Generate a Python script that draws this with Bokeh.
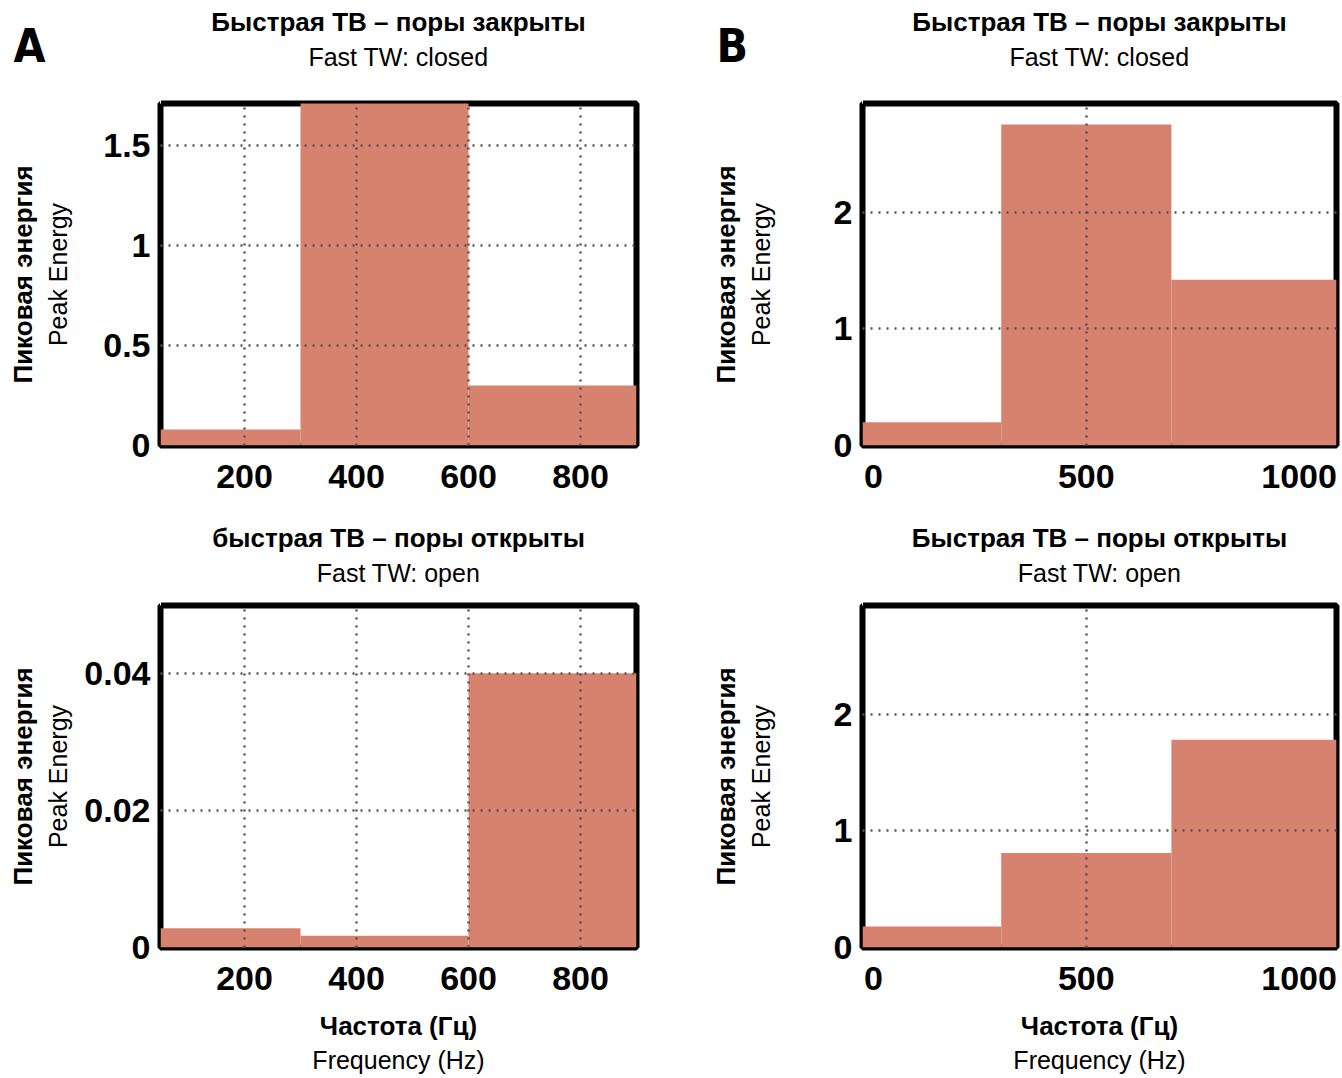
from bokeh.plotting import figure
from bokeh.models import Range1d, FixedTicker, Title, LinearAxis
from bokeh.layouts import column, row
from bokeh.embed import file_html
from bokeh.resources import INLINE

# ---------------- data ----------------
a_edges = [50, 300, 600, 900]            # frequency bin edges, panel A (Hz)
a_closed = [0.08, 1.9, 0.30]             # peak energy, fast TW closed
a_open = [0.0028, 0.0017, 0.0401]        # peak energy, fast TW open

b_edges = [-26, 300, 700, 1088]          # frequency bin edges, panel B (Hz)
b_closed = [0.20, 2.75, 1.42]
b_open = [0.18, 0.81, 1.78]

a_xticks = [200, 400, 600, 800]
a_xtick_labels = ["200", "400", "600", "800"]
b_xticks = [0, 500, 1000]
b_xtick_labels = ["0", "500", "1000"]
b_xgrid = [500]

a_closed_yticks = [0, 0.5, 1, 1.5]
a_closed_ytick_labels = ["0", "0.5", "1", "1.5"]
a_open_yticks = [0, 0.02, 0.04]
a_open_ytick_labels = ["0", "0.02", "0.04"]
b_yticks = [0, 1, 2]
b_ytick_labels = ["0", "1", "2"]

titles_bold = ["Быстрая ТВ – поры закрыты", "Быстрая ТВ – поры закрыты",
               "быстрая ТВ – поры открыты", "Быстрая ТВ – поры открыты"]
titles_reg = ["Fast TW: closed", "Fast TW: closed", "Fast TW: open", "Fast TW: open"]
ylabel_bold = "Пиковая энергия"
ylabel_reg = "Peak Energy"
xlabel_bold = "Частота (Гц)"
xlabel_reg = "Frequency (Hz)"
letters = ["A", "B"]

# ---------------- style ----------------
BAR = "#D6826E"
FONT = "Liberation Sans"
LETTER_FONT = "DejaVu Sans Condensed, Roboto"
FH = 342


def spacer_axis(size, tick):
    """Invisible axis used only to reserve room in a side panel."""
    ax = LinearAxis(ticker=FixedTicker(ticks=[tick]), major_tick_out=size, major_tick_in=0,
                    major_tick_line_color="white", minor_tick_line_color=None,
                    minor_tick_out=0, axis_line_color=None, major_label_standoff=0,
                    major_label_text_font_size="0px",
                    major_label_overrides={tick: ""})
    return ax


def make_panel(width, height, bl, br, bt, bb, xr, yr, edges, vals,
               xticks, xlabels, xgrid, yticks, ylabels, ygrid,
               tb, tr, top_gap, xlab=False):
    p = figure(width=width, height=height, x_range=Range1d(*xr), y_range=Range1d(*yr),
               output_backend="svg", toolbar_location=None,
               min_border_left=bl, min_border_right=br, min_border_top=bt,
               min_border_bottom=bb, background_fill_color="white",
               border_fill_color="white")
    p.outline_line_color = "black"
    p.outline_line_width = 6
    p.outline_line_alpha = 1.0

    p.quad(left=edges[:-1], right=edges[1:], bottom=0, top=vals,
           fill_color=BAR, line_color=None)

    for ax in (p.xaxis[0], p.yaxis[0]):
        ax.axis_line_color = None
        ax.major_tick_line_color = None
        ax.minor_tick_line_color = None
        ax.major_tick_out = 0
        ax.major_tick_in = 0
        ax.minor_tick_out = 0
        ax.major_label_text_font = FONT
        ax.major_label_text_font_style = "bold"
        ax.major_label_text_font_size = "34px"
        ax.major_label_text_color = "black"
    p.xaxis.ticker = FixedTicker(ticks=xticks)
    p.xaxis.major_label_overrides = dict(zip(xticks, xlabels))
    p.xaxis.major_label_standoff = 19
    p.yaxis.ticker = FixedTicker(ticks=yticks)
    p.yaxis.major_label_overrides = dict(zip(yticks, ylabels))
    p.yaxis.major_label_standoff = 10

    p.xgrid.ticker = FixedTicker(ticks=xgrid)
    p.ygrid.ticker = FixedTicker(ticks=ygrid)
    for g in (p.xgrid[0], p.ygrid[0]):
        g.grid_line_color = "#555555"
        g.grid_line_width = 2.5
        g.grid_line_dash = "2 6"
        g.level = "annotation"

    # titles above: spacer (nearest frame), regular line, bold line
    p.add_layout(spacer_axis(top_gap, xr[0]), "above")
    p.add_layout(Title(text=tr, align="center", vertical_align="middle", standoff=2,
                       text_font=FONT, text_font_style="normal", text_font_size="25px",
                       text_color="black"), "above")
    p.add_layout(Title(text=tb, align="center", vertical_align="middle", standoff=5,
                       text_font=FONT, text_font_style="bold", text_font_size="26px",
                       text_color="black"), "above")
    if xlab:
        p.add_layout(spacer_axis(17, xr[0]), "below")
        p.add_layout(Title(text=xlabel_bold, align="center", vertical_align="middle",
                           standoff=0, text_font=FONT, text_font_style="bold",
                           text_font_size="26px", text_color="black"), "below")
        p.add_layout(Title(text=xlabel_reg, align="center", vertical_align="middle",
                           standoff=6, text_font=FONT, text_font_style="normal",
                           text_font_size="25px", text_color="black"), "below")
    return p


def make_side(width, height, bt, bb, letter=None):
    """Left strip holding the panel letter and the two-line y-axis label."""
    s = figure(width=width, height=height, x_range=Range1d(0, 1), y_range=Range1d(0, 1),
               output_backend="svg", toolbar_location=None,
               x_axis_location=None, y_axis_location=None,
               min_border_left=width - 1, min_border_right=0,
               min_border_top=bt, min_border_bottom=bb,
               background_fill_color="white", border_fill_color="white")
    s.outline_line_color = None
    s.grid.visible = False
    s.add_layout(Title(text=ylabel_reg, align="center", vertical_align="middle", standoff=4,
                       text_font=FONT, text_font_style="normal", text_font_size="25px",
                       text_color="black"), "left")
    s.add_layout(Title(text=ylabel_bold, align="center", vertical_align="middle", standoff=4,
                       text_font=FONT, text_font_style="bold", text_font_size="26px",
                       text_color="black"), "left")
    if letter is not None:
        s.add_layout(spacer_axis(31, 0), "above")
        s.add_layout(Title(text=letter, align="left", vertical_align="bottom", standoff=0,
                           offset=-61, text_font=LETTER_FONT, text_font_style="bold",
                           text_font_size="46px", text_color="black"), "above")
    return s


ROW1_H, ROW1_T = 512, 103
ROW2_H, ROW2_T = 566, 93
SIDE_A_W, SIDE_B_W = 75, 86
COL1_W, COL1_L, COL1_R = 617, 85, 56
COL2_W, COL2_L, COL2_R = 562, 84, 4

sA1 = make_side(SIDE_A_W, ROW1_H, ROW1_T, ROW1_H - ROW1_T - FH, letter=letters[0])
sB1 = make_side(SIDE_B_W, ROW1_H, ROW1_T, ROW1_H - ROW1_T - FH, letter=letters[1])
sA2 = make_side(SIDE_A_W, ROW2_H, ROW2_T, ROW2_H - ROW2_T - FH)
sB2 = make_side(SIDE_B_W, ROW2_H, ROW2_T, ROW2_H - ROW2_T - FH)

p1 = make_panel(COL1_W, ROW1_H, COL1_L, COL1_R, ROW1_T, ROW1_H - ROW1_T - FH,
                (50, 900), (0, 1.71), a_edges, a_closed,
                a_xticks, a_xtick_labels, a_xticks,
                a_closed_yticks, a_closed_ytick_labels, a_closed_yticks[1:],
                titles_bold[0], titles_reg[0], 31)
p2 = make_panel(COL2_W, ROW1_H, COL2_L, COL2_R, ROW1_T, ROW1_H - ROW1_T - FH,
                (-26, 1088), (0, 2.93), b_edges, b_closed,
                b_xticks, b_xtick_labels, b_xgrid,
                b_yticks, b_ytick_labels, b_yticks[1:],
                titles_bold[1], titles_reg[1], 31)
p3 = make_panel(COL1_W, ROW2_H, COL1_L, COL1_R, ROW2_T, ROW2_H - ROW2_T - FH,
                (50, 900), (0, 0.05), a_edges, a_open,
                a_xticks, a_xtick_labels, a_xticks,
                a_open_yticks, a_open_ytick_labels, a_open_yticks[1:],
                titles_bold[2], titles_reg[2], 17, xlab=True)
p4 = make_panel(COL2_W, ROW2_H, COL2_L, COL2_R, ROW2_T, ROW2_H - ROW2_T - FH,
                (-26, 1088), (0, 2.93), b_edges, b_open,
                b_xticks, b_xtick_labels, b_xgrid,
                b_yticks, b_ytick_labels, b_yticks[1:],
                titles_bold[3], titles_reg[3], 17, xlab=True)

layout = column(row(sA1, p1, sB1, p2), row(sA2, p3, sB2, p4))
open("out.html", "w").write(file_html(layout, INLINE))
